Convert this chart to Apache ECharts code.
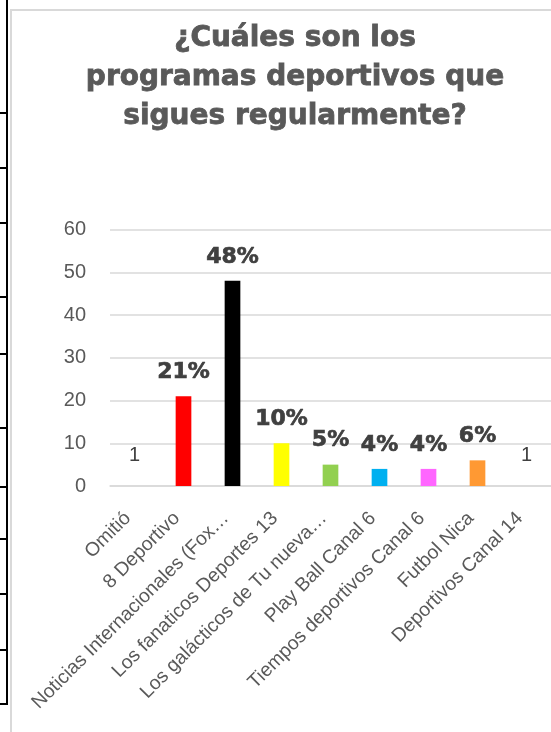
<!DOCTYPE html>
<html>
<head>
<meta charset="utf-8">
<script src="https://cdn.jsdelivr.net/npm/echarts@6/dist/echarts.min.js"></script>
<style>
html,body{margin:0;padding:0;background:#fff;}
#chart{width:551px;height:732px;}
</style>
</head>
<body>
<div id="chart"></div>
<script>
const titleText = "¿Cuáles son los\nprogramas deportivos que\nsigues regularmente?";
const categories = [
  "Omitió",
  "8 Deportivo",
  "Noticias Internacionales (Fox…",
  "Los fanaticos Deportes 13",
  "Los galácticos de Tu nueva…",
  "Play Ball Canal 6",
  "Tiempos deportivos Canal 6",
  "Futbol Nica",
  "Deportivos Canal 14"
];
const values = [1, 21, 48, 10, 5, 4, 4, 6, 1];
const dataLabels = ["1", "21%", "48%", "10%", "5%", "4%", "4%", "6%", "1"];
const yTicks = [0, 10, 20, 30, 40, 50, 60];

const barColors = ["transparent", "#FF0000", "#000000", "#FFFF00", "#92D050", "#00B0F0", "#FF66FF", "#FF9933", "transparent"];
const leftTickYs = [113, 168, 223, 297, 354, 428, 487, 539, 594, 650, 704];

const chart = echarts.init(document.getElementById('chart'), null, {renderer: 'canvas'});

const barData = values.map((v, i) => {
  const isPct = dataLabels[i].indexOf('%') >= 0;
  return {
    value: v,
    itemStyle: {color: barColors[i]},
    label: isPct ? {
      show: true, position: 'top', distance: 13,
      formatter: dataLabels[i],
      fontFamily: 'DejaVu Sans', fontWeight: 'bold', fontSize: 22, color: '#404040',
      textBorderColor: '#404040', textBorderWidth: 0.7
    } : {
      show: true, position: 'top', distance: 16,
      formatter: dataLabels[i],
      fontFamily: 'Liberation Sans', fontWeight: 'normal', fontSize: 20, color: '#404040'
    }
  };
});

const graphics = [
  {type: 'rect', shape: {x: 11, y: 10, width: 560, height: 740}, style: {fill: 'none', stroke: '#d9d9d9', lineWidth: 2}, z: -1},
  {type: 'line', shape: {x1: 7, y1: 0, x2: 7, y2: 705}, style: {stroke: '#000', lineWidth: 2}},
  {type: 'text', x: 295, y: 19, style: {
    text: titleText, align: 'center', verticalAlign: 'top',
    fontFamily: 'DejaVu Sans', fontWeight: 'bold', fontSize: 28, lineHeight: 39,
    fill: '#595959', stroke: '#595959', lineWidth: 0.8
  }}
].concat(leftTickYs.map(y => ({type: 'line', shape: {x1: 0, y1: y, x2: 8, y2: y}, style: {stroke: '#000', lineWidth: 2}})));

chart.setOption({
  animation: false,
  grid: {left: 110, top: 229.5, width: 445, height: 256.5, containLabel: false},
  xAxis: {
    type: 'category',
    data: categories,
    axisTick: {show: false},
    axisLine: {show: true, lineStyle: {color: '#d9d9d9', width: 1.5}},
    axisLabel: {interval: 0, rotate: 45, margin: 36, verticalAlign: 'bottom', fontFamily: 'Liberation Sans', fontSize: 19.4, color: '#595959'}
  },
  yAxis: {
    type: 'value',
    min: yTicks[0],
    max: yTicks[yTicks.length - 1],
    interval: 10,
    axisLine: {show: false},
    axisTick: {show: false},
    splitLine: {lineStyle: {color: '#d9d9d9', width: 1.5}},
    axisLabel: {margin: 24, fontFamily: 'Liberation Sans', fontSize: 20, color: '#595959'}
  },
  series: [{
    type: 'bar',
    data: barData,
    barWidth: '32%'
  }],
  graphic: graphics
});
</script>
</body>
</html>
